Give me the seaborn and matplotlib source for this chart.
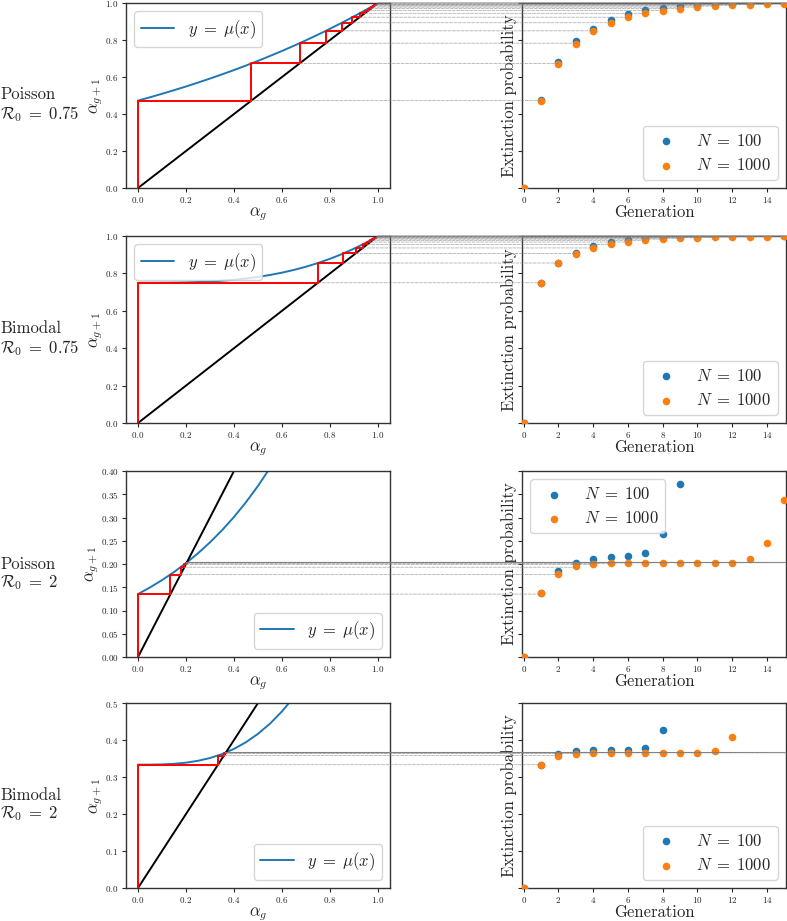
import matplotlib
matplotlib.use("Agg")
import numpy as np
import matplotlib.pyplot as plt
from matplotlib.patches import ConnectionPatch
import seaborn as sns

# ==========================
# data
# ==========================
row_names = ["Poisson", "Bimodal", "Poisson", "Bimodal"]
row_r0 = ["0.75", "0.75", "2", "2"]
row_ymax = [1.0, 1.0, 0.4, 0.5]

# mu(x) sampled at these x
curve_x = [0.00, 0.05, 0.10, 0.15, 0.20, 0.25, 0.30, 0.35, 0.40, 0.45, 0.50,
           0.55, 0.60, 0.65, 0.70, 0.75, 0.80, 0.85, 0.90, 0.95, 1.00]
mu_pois_075 = [0.4724, 0.4904, 0.5092, 0.5286, 0.5488, 0.5698, 0.5916, 0.6142, 0.6376, 0.6620, 0.6873,
               0.7136, 0.7408, 0.7691, 0.7985, 0.8290, 0.8607, 0.8936, 0.9277, 0.9632, 1.0000]
mu_bimo_075 = [0.7500, 0.7500, 0.7503, 0.7508, 0.7520, 0.7539, 0.7568, 0.7607, 0.7660, 0.7728, 0.7813,
               0.7916, 0.8040, 0.8187, 0.8358, 0.8555, 0.8780, 0.9035, 0.9323, 0.9643, 1.0000]
mu_pois_2 = [0.1353, 0.1496, 0.1653, 0.1827, 0.2019, 0.2231, 0.2466, 0.2725, 0.3012, 0.3329, 0.3679,
             0.4066, 0.4493, 0.4966, 0.5488, 0.6065, 0.6703, 0.7408, 0.8187, 0.9048, 1.0000]
mu_bimo_2 = [0.3333, 0.3334, 0.3340, 0.3356, 0.3387, 0.3438, 0.3513, 0.3619, 0.3760, 0.3941, 0.4167,
             0.4442, 0.4773, 0.5164, 0.5620, 0.6146, 0.6747, 0.7427, 0.8193, 0.9049, 1.0000]

# cobweb iterates alpha_0 .. alpha_15
alpha_pois_075 = [0.0, 0.4724, 0.6732, 0.7826, 0.8496, 0.8933, 0.9231, 0.9440, 0.9589,
                  0.9697, 0.9775, 0.9833, 0.9876, 0.9907, 0.9930, 0.9948]
alpha_bimo_075 = [0.0, 0.7500, 0.8555, 0.9065, 0.9362, 0.9551, 0.9678, 0.9766, 0.9829,
                  0.9874, 0.9907, 0.9931, 0.9948, 0.9961, 0.9971, 0.9978]
alpha_pois_2 = [0.0, 0.1353, 0.1774, 0.1930, 0.1991, 0.2016, 0.2025, 0.2029, 0.2031,
                0.2031, 0.2032, 0.2032, 0.2032, 0.2032, 0.2032, 0.2032]
alpha_bimo_2 = [0.0, 0.3333, 0.3580, 0.3639, 0.3655, 0.3659, 0.3660, 0.3660, 0.3660,
                0.3660, 0.3660, 0.3660, 0.3660, 0.3660, 0.3660, 0.3660]

# fixed points
fixed_pts = [1.0, 1.0, 0.2032, 0.3660]

# simulated extinction probability per generation
gens_16 = list(range(16))
ext_100_pois_075 = [0.0, 0.473, 0.679, 0.792, 0.862, 0.909, 0.939, 0.961, 0.975,
                    0.985, 0.990, 0.994, 0.996, 0.997, 0.998, 0.998]
ext_1000_pois_075 = [0.0, 0.472, 0.672, 0.781, 0.849, 0.894, 0.923, 0.945, 0.959,
                     0.970, 0.978, 0.984, 0.988, 0.990, 0.992, 0.994]
ext_100_bimo_075 = [0.0, 0.750, 0.856, 0.909, 0.947, 0.966, 0.979, 0.987, 0.992,
                    0.995, 0.997, 0.998, 0.999, 0.999, 1.000, 1.000]
ext_1000_bimo_075 = [0.0, 0.750, 0.856, 0.904, 0.936, 0.956, 0.968, 0.977, 0.983,
                     0.988, 0.991, 0.993, 0.995, 0.996, 0.997, 0.998]
gen_100_pois_2 = list(range(10))
ext_100_pois_2 = [0.0, 0.137, 0.184, 0.202, 0.211, 0.214, 0.217, 0.224, 0.265, 0.373]
ext_1000_pois_2 = [0.0, 0.137, 0.179, 0.195, 0.199, 0.2015, 0.203, 0.203, 0.203,
                   0.203, 0.203, 0.203, 0.203, 0.211, 0.245, 0.338]
gen_100_bimo_2 = list(range(9))
ext_100_bimo_2 = [0.0, 0.3325, 0.361, 0.369, 0.372, 0.3737, 0.374, 0.379, 0.427]
gen_1000_bimo_2 = list(range(13))
ext_1000_bimo_2 = [0.0, 0.3325, 0.3575, 0.363, 0.3656, 0.366, 0.366, 0.366, 0.366,
                   0.366, 0.366, 0.371, 0.408]

curves = [mu_pois_075, mu_bimo_075, mu_pois_2, mu_bimo_2]
alphas = [alpha_pois_075, alpha_bimo_075, alpha_pois_2, alpha_bimo_2]
sims = [
    (gens_16, ext_100_pois_075, gens_16, ext_1000_pois_075),
    (gens_16, ext_100_bimo_075, gens_16, ext_1000_bimo_075),
    (gen_100_pois_2, ext_100_pois_2, gens_16, ext_1000_pois_2),
    (gen_100_bimo_2, ext_100_bimo_2, gen_1000_bimo_2, ext_1000_bimo_2),
]
left_legend_loc = ["upper left", "upper left", "lower right", "lower right"]
right_legend_loc = ["lower right", "lower right", "upper left", "lower right"]

# ==========================
# style
# ==========================
sns.set_theme(style="ticks")
plt.rcParams.update({
    "font.family": "serif",
    "font.serif": ["cmr10", "DejaVu Serif"],
    "mathtext.fontset": "cm",
    "axes.formatter.use_mathtext": True,
    "axes.edgecolor": "#333333",
    "axes.linewidth": 1.0,
    "xtick.labelsize": 6.5,
    "ytick.labelsize": 6.5,
    "xtick.major.size": 3,
    "ytick.major.size": 3,
    "xtick.major.pad": 2,
    "ytick.major.pad": 2.5,
    "xtick.major.width": 0.8,
    "ytick.major.width": 0.8,
    "axes.labelsize": 12,
    "legend.fontsize": 12,
})

W, H = 787, 921
fig = plt.figure(figsize=(W / 100, H / 100), dpi=100)
rows_px = [(3, 188), (236, 423), (471, 657), (703, 888)]


def px_axes(x0, x1, y0, y1):
    return fig.add_axes([x0 / W, 1 - y1 / H, (x1 - x0) / W, (y1 - y0) / H])


for i in range(4):
    top, bot = rows_px[i]
    axL = px_axes(126, 390, top, bot)
    axR = px_axes(522, 786, top, bot)

    # --- left: cobweb ---
    sns.lineplot(x=curve_x, y=curves[i], ax=axL, color="tab:blue", lw=1.4,
                 label=r"$y\;=\;\mu(x)$")
    sns.lineplot(x=[0, 1], y=[0, 1], ax=axL, color="black", lw=1.4)
    a = np.array(alphas[i])
    cx = np.repeat(a, 2)[:-1]
    cy = np.concatenate([[0.0], np.repeat(a[1:], 2)])
    axL.plot(cx, cy, color="red", lw=1.4)
    axL.set_xlim(-0.05, 1.05)
    axL.set_ylim(0, row_ymax[i])
    axL.set_xlabel(r"$\alpha_g$", labelpad=0)
    axL.set_ylabel(r"$\alpha_{g+1}$", labelpad=0)
    axL.legend(loc=left_legend_loc[i])

    # --- right: simulation ---
    g1, e1, g2, e2 = sims[i]
    sns.scatterplot(x=g1, y=e1, ax=axR, color="tab:blue", s=30, linewidth=0,
                    label=r"$N\;=\;100$", zorder=3)
    sns.scatterplot(x=g2, y=e2, ax=axR, color="tab:orange", s=30, linewidth=0,
                    label=r"$N\;=\;1000$", zorder=3)
    axR.set_xticks(range(0, 15, 2))
    axR.set_yticks(axL.get_yticks())
    axR.set_xlim(-0.1, 15.1)
    axR.set_ylim(0, row_ymax[i])
    axR.tick_params(axis="y", labelleft=False)
    axR.set_xlabel("Generation", labelpad=0)
    axR.set_ylabel("Extinction probability", labelpad=0.5)
    axR.legend(loc=right_legend_loc[i])

    for ax in (axL, axR):
        for sp in ax.spines.values():
            sp.set_visible(True)

    # --- connectors ---
    q = fixed_pts[i]
    con = ConnectionPatch(xyA=(q, q), coordsA=axL.transData,
                          xyB=(15.1, q), coordsB=axR.transData,
                          color="grey", lw=0.9, alpha=0.8)
    fig.add_artist(con)
    for g in range(1, len(a)):
        con = ConnectionPatch(xyA=(a[g], a[g]), coordsA=axL.transData,
                              xyB=(g, a[g]), coordsB=axR.transData,
                              color="grey", lw=0.6, ls="--", alpha=0.6)
        fig.add_artist(con)

    # row label
    fig.text(0.0, 1 - ((top + bot) / 2 + 10) / H,
             f"{row_names[i]}\n" + r"$\mathcal{R}_0\;=\;" + row_r0[i] + "$",
             ha="left", va="center", fontsize=12, linespacing=1.1)

fig.savefig("out.png", dpi=100)
